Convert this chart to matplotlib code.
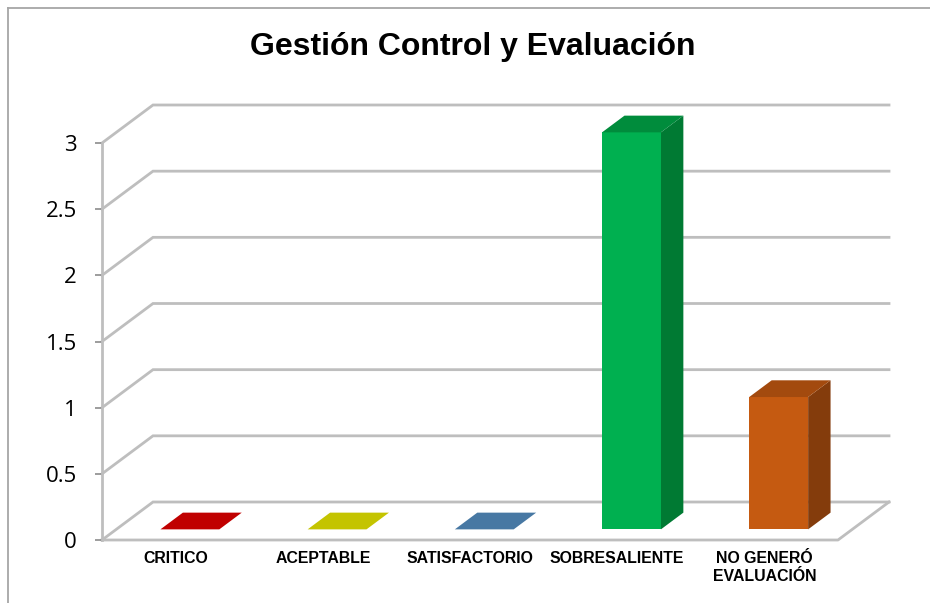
import matplotlib
matplotlib.use("Agg")
import matplotlib.pyplot as plt
from matplotlib.patches import Polygon, Rectangle
from matplotlib.lines import Line2D

# ---- data ----
categories = ["CRITICO", "ACEPTABLE", "SATISFACTORIO", "SOBRESALIENTE", "NO GENERÓ\nEVALUACIÓN"]
values = [0, 0, 0, 3, 1]
colors = ["#C00000", "#C4C400", "#4778A3", "#00B050", "#C55A11"]
side_colors = ["#8A0000", "#8C8C00", "#325577", "#007A33", "#843C0C"]
top_colors = ["#C00000", "#C4C400", "#4778A3", "#008C3C", "#A34A0E"]
yticks = [0, 0.5, 1, 1.5, 2, 2.5, 3]
ytick_labels = ["0", "0.5", "1", "1.5", "2", "2.5", "3"]
title = "Gestión Control y Evaluación"

W, H = 930, 603
fig = plt.figure(figsize=(W / 100, H / 100), dpi=100)
fig.patch.set_facecolor("white")

# outer frame (only top/left visible in reference)
fig.add_artist(Line2D([8 / W, 8 / W], [0, 1 - 8 / H], transform=fig.transFigure,
                      color="#A6A6A6", lw=1.3))
fig.add_artist(Line2D([8 / W, 1], [1 - 8 / H, 1 - 8 / H], transform=fig.transFigure,
                      color="#A6A6A6", lw=1.3))

# front plane axes
left_px, right_px, y0_px, y3_px = 102, 838, 540, 143
ax = fig.add_axes([left_px / W, 1 - y0_px / H, (right_px - left_px) / W, (y0_px - y3_px) / H])
ax.set_xlim(0, len(categories))
ax.set_ylim(0, 3)
ax.patch.set_alpha(0)

# depth offset in data units
px_per_x = (right_px - left_px) / len(categories)
px_per_y = (y0_px - y3_px) / 3
Dx = 51 / px_per_x
Dy = 38 / px_per_y
n = len(categories)

grid_c = "#BEBEBE"
# back wall gridlines + side wall diagonals
for v in yticks:
    ax.plot([0, Dx, n + Dx], [v, v + Dy, v + Dy], color=grid_c, lw=2.0,
            clip_on=False, solid_joinstyle="miter", zorder=1)
# floor front and right edges
ax.plot([0, n, n + Dx], [0, 0, Dy], color=grid_c, lw=2.0, clip_on=False, zorder=1)

# bars
f0, f1 = 0.28, 0.72
hw = 0.2
for i, (v, c, sc, tc) in enumerate(zip(values, colors, side_colors, top_colors)):
    cx = i + 0.5
    xl0, xr0 = cx - hw + f0 * Dx, cx + hw + f0 * Dx
    xl1, xr1 = cx - hw + f1 * Dx, cx + hw + f1 * Dx
    yb0, yb1 = f0 * Dy, f1 * Dy
    if v > 0:
        ax.add_patch(Polygon([(xr0, yb0), (xr1, yb1), (xr1, v + yb1), (xr0, v + yb0)],
                             closed=True, facecolor=sc, edgecolor="none", clip_on=False, zorder=3))
        ax.add_patch(Rectangle((xl0, yb0), xr0 - xl0, v, facecolor=c, edgecolor="none",
                               clip_on=False, zorder=4))
    ax.add_patch(Polygon([(xl0, v + yb0), (xr0, v + yb0), (xr1, v + yb1), (xl1, v + yb1)],
                         closed=True, facecolor=(tc if v > 0 else c), edgecolor="none",
                         clip_on=False, zorder=4))

# axes styling
for s in ["top", "right", "bottom"]:
    ax.spines[s].set_visible(False)
ax.spines["left"].set_color(grid_c)
ax.spines["left"].set_linewidth(2.0)
ax.spines["left"].set_zorder(2)
ax.set_yticks(yticks)
ax.set_yticklabels(ytick_labels, fontsize=16, family="Open Sans")
ax.tick_params(axis="y", length=5, width=1.2, color="#8C8C8C", pad=13, labelcolor="#000000")
ax.set_xticks([i + 0.5 for i in range(n)])
ax.set_xticklabels(categories, fontsize=11.4, fontweight="bold", family="Liberation Sans",
                   linespacing=1.2)
ax.tick_params(axis="x", length=0, pad=8)

fig.text(473 / W, 1 - 47 / H, title, ha="center", va="center", fontsize=23,
         fontweight="bold", family="Liberation Sans")

fig.savefig("out.png", dpi=100)
